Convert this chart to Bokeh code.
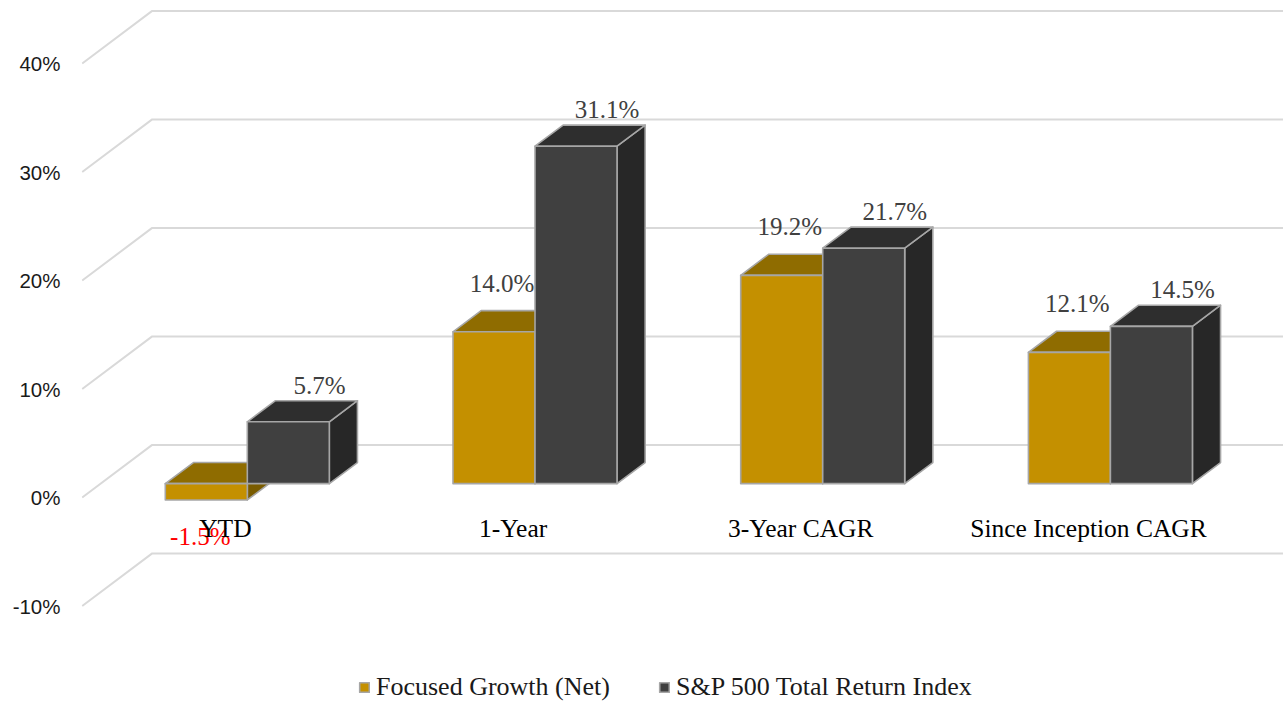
from bokeh.plotting import figure
from bokeh.models import Range1d, FixedTicker, PrintfTickFormatter, Legend, LegendItem, ColumnDataSource
from bokeh.core.properties import value
from bokeh.embed import file_html
from bokeh.resources import INLINE

# ---------------- data ----------------
categories = ["YTD", "1-Year", "3-Year CAGR", "Since Inception CAGR"]
series_names = ["Focused Growth (Net)", "S&P 500 Total Return Index"]
focused_growth = [-1.5, 14.0, 19.2, 12.1]
sp500_total_return = [5.7, 31.1, 21.7, 14.5]
y_ticks = [-10, 0, 10, 20, 30, 40]

# ---------------- layout / style ----------------
FIG_W, FIG_H = 1283, 702
BORDER_L = 81
PX_X = 287.7          # px per category unit
PX_Y = 10.85          # px per percentage point
ORIGIN_X = 84.55      # page x of category coordinate 0 (front plane)
ORIGIN_Y = 497.0      # page y of 0% (front plane)
PAGE = 0              # bokeh's page template has no body margin
TXT_UP = 8.5          # px correction for rendered text baseline

frame_left = PAGE + BORDER_L
frame_right = PAGE + FIG_W
frame_top = PAGE
frame_bottom = PAGE + FIG_H

x_start = (frame_left - ORIGIN_X) / PX_X
x_end = (frame_right - ORIGIN_X) / PX_X
y_start = (ORIGIN_Y - frame_bottom) / PX_Y
y_end = (ORIGIN_Y - frame_top) / PX_Y

DX = 70.0 / PX_X      # full depth, x
DY = 52.6 / PX_Y      # full depth, y
F1, F2 = 0.263, 0.665 # bar front / back depth fractions
BAR_W = 82.0 / PX_X

GOLD = dict(front="#C49000", top="#8F6C00", side="#7A5C00")
DARK = dict(front="#404040", top="#2E2E2E", side="#272727")
EDGE = "#A6A6A6"
GRID = "#D9D9D9"
SERIF = "Liberation Serif"
SANS = "Liberation Sans"

p = figure(width=FIG_W, height=FIG_H, x_range=Range1d(x_start, x_end),
           y_range=Range1d(y_start, y_end), output_backend="svg",
           toolbar_location=None, x_axis_location=None, y_axis_location="left",
           min_border_left=BORDER_L, min_border_right=0, min_border_top=0,
           min_border_bottom=0)
p.grid.visible = False
p.outline_line_color = None
p.background_fill_color = "white"

# y axis (front plane)
ax = p.yaxis[0]
ax.ticker = FixedTicker(ticks=y_ticks)
ax.formatter = PrintfTickFormatter(format="%d%%")
ax.axis_line_color = None
ax.major_tick_line_color = None
ax.minor_tick_line_color = None
ax.major_tick_out = 0
ax.major_tick_in = 0
ax.major_label_standoff = 21
ax.major_label_text_font = SANS
ax.major_label_text_font_size = "20.5px"
ax.major_label_text_color = "#1a1a1a"

# gridlines: front diagonal to back wall, then horizontal along back wall
gx0 = (81.7 - ORIGIN_X) / PX_X
gxs, gys = [], []
for t in y_ticks:
    gxs.append([gx0, gx0 + DX, x_end])
    gys.append([t, t + DY, t + DY])
p.multi_line(gxs, gys, line_color=GRID, line_width=2)

# bars
dx1, dy1 = F1 * DX, F1 * DY
dx2, dy2 = F2 * DX, F2 * DY

def faces(values, s):
    fr, tp, sd = ([], []), ([], []), ([], [])
    for i, v in enumerate(values):
        c = i + 0.5
        x0 = c - BAR_W if s == 0 else c
        x1 = x0 + BAR_W
        lo, hi = min(0, v), max(0, v)
        fr[0].append([x0 + dx1, x1 + dx1, x1 + dx1, x0 + dx1])
        fr[1].append([lo + dy1, lo + dy1, hi + dy1, hi + dy1])
        tp[0].append([x0 + dx1, x1 + dx1, x1 + dx2, x0 + dx2])
        tp[1].append([hi + dy1, hi + dy1, hi + dy2, hi + dy2])
        sd[0].append([x1 + dx1, x1 + dx2, x1 + dx2, x1 + dx1])
        sd[1].append([lo + dy1, lo + dy2, hi + dy2, hi + dy1])
    return fr, tp, sd

front_renderers = []
for s, (vals, col) in enumerate([(focused_growth, GOLD), (sp500_total_return, DARK)]):
    fr, tp, sd = faces(vals, s)
    kw = dict(line_color=EDGE, line_width=1.6, line_join="round")
    p.patches(sd[0], sd[1], fill_color=col["side"], **kw)
    p.patches(tp[0], tp[1], fill_color=col["top"], **kw)
    r = p.patches(fr[0], fr[1], fill_color=col["front"], **kw)
    front_renderers.append(r)

# data labels
up = TXT_UP / PX_Y
lx, ly, lt, lc = [], [], [], []
for i, v in enumerate(focused_growth):
    c = i + 0.5
    fc = c - BAR_W / 2 + dx1
    if v >= 0:
        lx.append(fc + 8 / PX_X)
        ly.append(v + dy1 + 40 / PX_Y + up)
        lc.append("#404040")
    else:
        lx.append(fc - 6 / PX_X)
        ly.append(v + dy1 - 45 / PX_Y + up)
        lc.append("#FF0000")
    lt.append(f"{v:.1f}%")
for i, v in enumerate(sp500_total_return):
    c = i + 0.5
    bc = c + BAR_W / 2 + dx2
    lx.append(bc + 3 / PX_X)
    ly.append(max(v, 0) + dy2 + 7 / PX_Y + up)
    lt.append(f"{v:.1f}%")
    lc.append("#404040")
lsrc = ColumnDataSource(dict(x=lx, y=ly, t=lt, c=lc))
p.text(x="x", y="y", text="t", text_color="c", source=lsrc,
       text_align="center", text_baseline="alphabetic",
       text_font=value(SERIF), text_font_size="25px")

# category labels (front plane)
csrc = ColumnDataSource(dict(x=[i + 0.5 - 3.5 / PX_X for i in range(len(categories))],
                             y=[-39 / PX_Y + up] * len(categories), t=categories))
p.text(x="x", y="y", text="t", source=csrc, text_align="center",
       text_baseline="alphabetic", text_color="#000000",
       text_font=value(SERIF), text_font_size="25.5px")

legend = Legend(items=[LegendItem(label=series_names[0], renderers=[front_renderers[0]]),
                       LegendItem(label=series_names[1], renderers=[front_renderers[1]])],
                orientation="horizontal", location=(277, 0),
                glyph_width=12, glyph_height=12, label_standoff=6, spacing=48,
                padding=0, margin=0, border_line_color=None,
                background_fill_alpha=0, label_text_font=SERIF,
                label_text_font_size="26px", label_text_color="#1a1a1a")
p.add_layout(legend)

open("out.html", "w").write(file_html(p, INLINE))
